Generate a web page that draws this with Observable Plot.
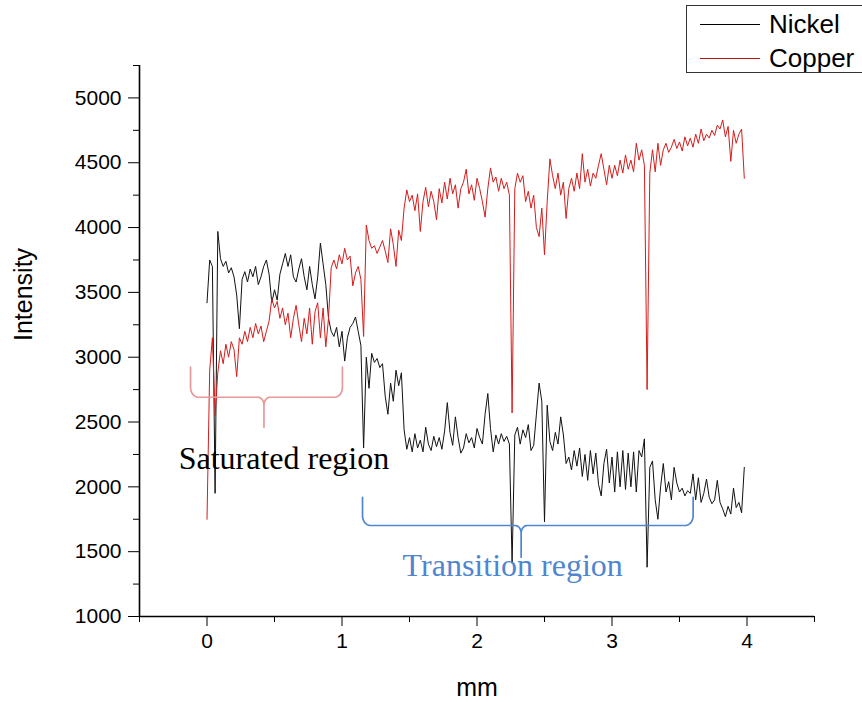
<!DOCTYPE html>
<html>
<head>
<meta charset="utf-8">
<script src="https://cdn.jsdelivr.net/npm/d3@7"></script>
<script src="https://cdn.jsdelivr.net/npm/@observablehq/plot@0.6"></script>
<style>
  html, body { margin: 0; padding: 0; background: #fff; overflow: hidden; }
  #wrap { position: relative; width: 862px; height: 702px; }
  #legend {
    position: absolute; left: 686px; top: 5px; width: 200px; height: 68px;
    border: 1.5px solid #333; box-sizing: border-box; background: #fff;
    font-family: "Liberation Sans", Arial, sans-serif; font-size: 26px; color: #000;
  }
  #legend .row { position: absolute; left: 0; height: 30px; display: flex; align-items: center; white-space: nowrap; }
  #legend .swatch { width: 60px; height: 0; border-top: 1px solid; margin-left: 13px; margin-right: 9px; }
</style>
</head>
<body>
<div id="wrap">
  <div id="chart"></div>
  <div id="legend"></div>
</div>
<script>
// ---- Data ----
const step = 0.02;            // sampling interval of the profiles, mm (first sample at 0 mm)
const seriesNames = ["Nickel", "Copper"];
const seriesColors = ["#111111", "#d41c1c"];

const nickel = [
  3420, 3750, 3700, 1950, 3970, 3760, 3700, 3740, 3650, 3690,
  3620, 3480, 3220, 3600, 3660, 3580, 3680, 3620, 3700, 3560,
  3620, 3700, 3750, 3640, 3420, 3520, 3440, 3640, 3720, 3800,
  3700, 3790, 3620, 3580, 3680, 3760, 3620, 3520, 3700, 3560,
  3450, 3620, 3880, 3720, 3560, 3300, 3200, 3160, 3230, 3080,
  3200, 2970, 3150, 3230, 3260, 3310, 3200, 3090, 2300, 3000,
  2760, 3030, 2960, 2990, 2920, 2950, 2700, 2560, 2800, 2660,
  2900, 2780, 2880, 2440, 2290, 2380, 2270, 2410, 2300, 2360,
  2270, 2460, 2330, 2280, 2390, 2310, 2380, 2290, 2430, 2650,
  2420, 2320, 2540, 2380, 2260, 2300, 2410, 2340, 2380, 2300,
  2450, 2380, 2330, 2560, 2720, 2450, 2270, 2400, 2330, 2410,
  2350, 2390, 2330, 1410, 2400, 2460, 2330, 2440, 2380, 2480,
  2280, 2320, 2560, 2800, 2660, 1730, 2630, 2350, 2280, 2420,
  2330, 2540, 2400, 2180, 2230, 2130, 2280, 2160, 2300, 2080,
  2250, 2050, 2280, 2100, 2260, 2020, 1930, 2180, 2290, 2030,
  2230, 1960, 2270, 2000, 2280, 1980, 2260, 2000, 2270, 1960,
  2280, 2230, 2370, 1380, 2150, 2200, 1900, 1750, 2000, 2180,
  1960, 2040, 1900, 2150, 2030, 1960, 1990, 1930, 1970, 1950,
  2100, 1900, 2070, 1880, 1950, 2060, 1920, 1870, 1900, 2050,
  1880, 1830, 1770, 1850, 1790, 1990, 1840, 1880, 1800, 2150
];

const copper = [
  1750, 2900, 3150, 2550, 2880, 3050, 2950, 3100, 3000, 3120,
  3060, 2850, 3150, 3100, 3200, 3120, 3230, 3150, 3260, 3180,
  3240, 3120, 3200, 3280, 3450, 3380, 3430, 3300, 3380, 3250,
  3340, 3150, 3300, 3400, 3250, 3120, 3300, 3180, 3380, 3100,
  3350, 3420, 3150, 3380, 3080, 3300, 3690, 3750, 3680, 3790,
  3720, 3840, 3750, 3780, 3550, 3650, 3700, 3600, 3160, 4020,
  3900, 3840, 3860, 3800, 3850, 3900, 3820, 3730, 3990, 3870,
  3700, 3980, 3900, 4150, 4290, 4200, 4250, 4130, 4260, 3970,
  4200, 4310, 4160, 4280, 4200, 4060, 4300, 4190, 4350, 4220,
  4380, 4260, 4330, 4150, 4300, 4350, 4450, 4260, 4330, 4210,
  4380, 4300, 4200, 4080, 4300, 4460, 4350, 4390, 4280, 4380,
  4300, 4350, 4250, 2570, 4300, 4420, 4350, 4400, 4200, 4280,
  4150, 4250, 4000, 3930, 4150, 3790, 4200, 4530, 4400, 4300,
  4420, 4250, 4350, 4070, 4300, 4380, 4280, 4420, 4300, 4570,
  4350, 4450, 4320, 4420, 4380, 4480, 4570, 4450, 4330, 4480,
  4380, 4480, 4400, 4520, 4420, 4560, 4450, 4520, 4430, 4650,
  4520, 4600, 4480, 2750, 4420, 4600, 4430, 4650, 4480, 4600,
  4650, 4580, 4620, 4680, 4610, 4660, 4590, 4700, 4630, 4690,
  4620, 4720, 4650, 4760, 4670, 4720, 4690, 4750, 4710, 4790,
  4760, 4830, 4700, 4780, 4510, 4750, 4650, 4720, 4760, 4380
];

const yMajorTicks = [1000, 1500, 2000, 2500, 3000, 3500, 4000, 4500, 5000];
const yMinorTicks = [1250, 1750, 2250, 2750, 3250, 3750, 4250, 4750, 5250];
const xMajorTicks = [0, 1, 2, 3, 4];
const xMinorTicks = [-0.5, 0.5, 1.5, 2.5, 3.5, 4.5];

// Annotation braces: [x start, x end, x tip, y ends, y bar, y tip] in data units
const saturatedBrace = [-0.122, 1.003, 0.422, 2923, 2691, 2460];
const transitionBrace = [1.152, 3.601, 2.327, 1920, 1702, 1457];
const annotationLabels = ["Saturated region", "Transition region"];
const annotationAnchors = [[-0.21, 2141], [1.449, 1316]];

// ---- Build tables ----
const profile = (vals, name) => vals.map((v, i) => ({mm: +(i * step).toFixed(2), intensity: v, series: name}));
const nickelData = profile(nickel, seriesNames[0]);
const copperData = profile(copper, seriesNames[1]);

function bracePoints(b) {
  const [x0, x1, xc, yTop, yMid, yTip] = b;
  const rx = 0.06, ry = 75, cx = 0.045, cy = 60, n = 10;
  const pts = [[x0, yTop]];
  for (let k = 0; k <= n; k++) { const t = k / n * Math.PI / 2; pts.push([x0 + rx - rx * Math.cos(t), yMid + ry - ry * Math.sin(t)]); }
  for (let k = 0; k <= n; k++) { const t = k / n * Math.PI / 2; pts.push([xc - cx + cx * Math.sin(t), yMid - cy + cy * Math.cos(t)]); }
  pts.push([xc, yTip]);
  for (let k = 0; k <= n; k++) { const t = k / n * Math.PI / 2; pts.push([xc + cx - cx * Math.cos(t), yMid - cy + cy * Math.sin(t)]); }
  for (let k = 0; k <= n; k++) { const t = k / n * Math.PI / 2; pts.push([x1 - rx + rx * Math.sin(t), yMid + ry - ry * Math.cos(t)]); }
  pts.push([x1, yTop]);
  return pts.map(([x, y]) => ({x, y}));
}

const serif = "'Liberation Serif', 'Times New Roman', serif";

const chart = Plot.plot({
  width: 862,
  height: 702,
  marginLeft: 139,
  marginRight: 48,
  marginTop: 65,
  marginBottom: 86,
  x: {domain: [-0.5, 4.5]},
  y: {domain: [1000, 5250]},
  style: {fontFamily: "'Liberation Sans', Arial, sans-serif", fontSize: "21px", color: "#000", background: "#fff"},
  marks: [
    Plot.line(nickelData, {x: "mm", y: "intensity", stroke: seriesColors[0], strokeWidth: 1}),
    Plot.line(copperData, {x: "mm", y: "intensity", stroke: seriesColors[1], strokeWidth: 1}),
    Plot.line(bracePoints(saturatedBrace), {x: "x", y: "y", stroke: "#e89a9a", strokeWidth: 1.7}),
    Plot.line(bracePoints(transitionBrace), {x: "x", y: "y", stroke: "#4f86d0", strokeWidth: 1.7}),
    Plot.text([annotationLabels[0]], {x: annotationAnchors[0][0], y: annotationAnchors[0][1], text: d => d,
      fontFamily: serif, fontSize: 32, textAnchor: "start", lineAnchor: "bottom", fill: "#000"}),
    Plot.text([annotationLabels[1]], {x: annotationAnchors[1][0], y: annotationAnchors[1][1], text: d => d,
      fontFamily: serif, fontSize: 32, textAnchor: "start", lineAnchor: "bottom", fill: "#4f86d0"}),
    Plot.axisY(yMajorTicks, {tickSize: 11, tickPadding: 7, tickFormat: "d", label: null}),
    Plot.axisY(yMinorTicks, {tickSize: 6, fill: "none", label: null}),
    Plot.axisX(xMajorTicks, {tickSize: 10, tickPadding: 7, tickFormat: "d", label: null}),
    Plot.axisX(xMinorTicks, {tickSize: 6, fill: "none", label: null}),
    Plot.ruleX([-0.5], {stroke: "#000", strokeWidth: 1.6}),
    Plot.ruleY([1000], {stroke: "#000", strokeWidth: 1.6}),
    Plot.text(["Intensity"], {frameAnchor: "left", rotate: -90, dx: -116, fontSize: 25, fill: "#000"}),
    Plot.text(["mm"], {frameAnchor: "bottom", dy: 79, fontSize: 25, fill: "#000"})
  ]
});
document.getElementById("chart").appendChild(chart);

// ---- Legend ----
const legend = document.getElementById("legend");
const rowCenters = [18, 52];
seriesNames.forEach((name, i) => {
  const row = document.createElement("div");
  row.className = "row";
  row.style.top = (rowCenters[i] - 15) + "px";
  const sw = document.createElement("span");
  sw.className = "swatch";
  sw.style.borderTopColor = i === 0 ? "#000" : "#b01515";
  const label = document.createElement("span");
  label.textContent = name;
  row.appendChild(sw);
  row.appendChild(label);
  legend.appendChild(row);
});
</script>
</body>
</html>
